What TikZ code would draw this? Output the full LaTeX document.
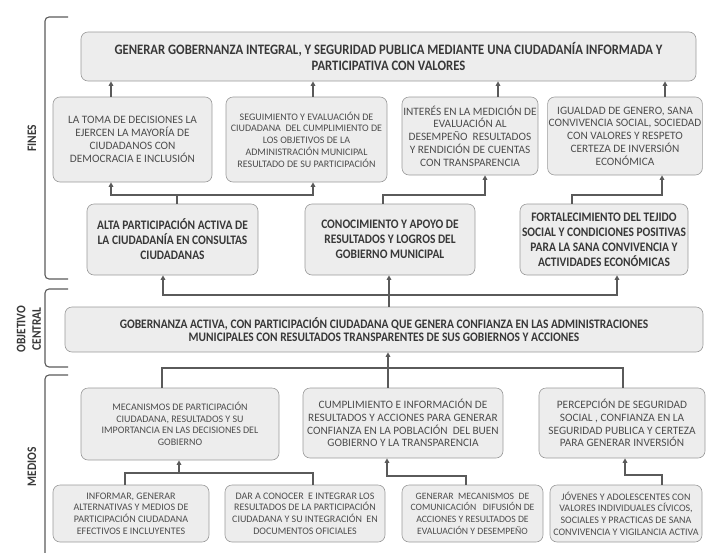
\documentclass[tikz,border=0pt]{standalone}
\usepackage{fontspec}
\setmainfont{Carlito}
\newfontfamily\headfont[FakeStretch=0.88]{Carlito}
\usetikzlibrary{arrows.meta,positioning,calc}

\definecolor{boxfill}{HTML}{EDEDED}
\definecolor{boxline}{HTML}{9A9A9A}
\definecolor{linegray}{HTML}{5A5A5A}
\definecolor{txtgray}{HTML}{4D4D4D}
\definecolor{txtdark}{HTML}{383838}

\begin{document}
\begin{tikzpicture}[
    x=1pt, y=-1pt,
    box/.style={rectangle, draw=boxline, fill=boxfill, line width=0.6pt, rounded corners=7pt, inner sep=1pt, align=center, text=txtgray},
    wh/.style 2 args={minimum width=#1pt, minimum height=#2pt},
    note/.style={box, font=\fontsize{10}{11.7}\selectfont},
    notebig/.style={box, font=\fontsize{11.3}{12.8}\selectfont},
    keybox/.style={box, text=txtdark, font=\headfont\bfseries\fontsize{13}{15}\selectfont},
    side/.style={rotate=90, align=center, text=txtdark, font=\headfont\bfseries\fontsize{13}{15.5}\selectfont},
    line/.style={draw=linegray, line width=1.2pt},
    arrow/.style={line, -{Triangle[length=4.5pt,width=4.5pt]}},
    bracket/.style={draw=linegray, line width=1.1pt, rounded corners=4pt}
]
    \useasboundingbox (0,0) rectangle (707,552);

    % section brackets
    \draw[bracket] (68,17) -- (45,17) -- (45,279) -- (68,279);
    \draw[bracket] (68,289) -- (45,289) -- (45,367) -- (68,367);
    \draw[bracket] (68,375) -- (45,375) -- (45,556);
    \node[side] (fineslbl) at (32,138) {FINES};
    \node[side] (centrallbl) at (29,329) {OBJETIVO\\CENTRAL};
    \node[side] (medioslbl) at (32,467) {MEDIOS};

    % fines
    \node[keybox, wh={615}{49}, font=\headfont\bfseries\fontsize{14.4}{16}\selectfont] (topgoal) at (388.5,56.5) {GENERAR GOBERNANZA INTEGRAL, Y SEGURIDAD PUBLICA MEDIANTE UNA CIUDADANÍA INFORMADA Y\\PARTICIPATIVA CON VALORES};
    \node[notebig, wh={159}{85}] (decisiones) at (132.5,139.5) {LA TOMA DE DECISIONES LA\\EJERCEN LA MAYORÍA DE\\CIUDADANOS CON\\DEMOCRACIA E INCLUSIÓN};
    \node[note, wh={161}{85}] (seguimiento) at (306.5,139.5) {SEGUIMIENTO Y EVALUACIÓN DE\\CIUDADANA~ DEL CUMPLIMIENTO DE\\LOS OBJETIVOS DE LA\\ADMINISTRACIÓN MUNICIPAL\\RESULTADO DE SU PARTICIPACIÓN};
    \node[notebig, wh={136}{78}] (interes) at (470,136) {INTERÉS EN LA MEDICIÓN DE\\EVALUACIÓN AL\\DESEMPEÑO~ RESULTADOS\\Y RENDICIÓN DE CUENTAS\\CON TRANSPARENCIA};
    \node[notebig, wh={154}{78}] (igualdad) at (625,136) {IGUALDAD DE GENERO, SANA\\CONVIVENCIA SOCIAL, SOCIEDAD\\CON VALORES Y RESPETO\\CERTEZA DE INVERSIÓN\\ECONÓMICA};
    \node[keybox, wh={171}{71}] (participacion) at (172.5,239.5) {ALTA PARTICIPACIÓN ACTIVA DE\\LA CIUDADANÍA EN CONSULTAS\\CIUDADANAS};
    \node[keybox, wh={170}{71}] (conocimiento) at (390,239.5) {CONOCIMIENTO Y APOYO DE\\RESULTADOS Y LOGROS DEL\\GOBIERNO MUNICIPAL};
    \node[keybox, wh={168}{71}] (tejido) at (604,239.5) {FORTALECIMIENTO DEL TEJIDO\\SOCIAL Y CONDICIONES POSITIVAS\\PARA LA SANA CONVIVENCIA Y\\ACTIVIDADES ECONÓMICAS};

    % objetivo central
    \node[keybox, wh={638}{45}, font=\headfont\bfseries\fontsize{13}{13.5}\selectfont] (central) at (384,329.5) {GOBERNANZA ACTIVA, CON PARTICIPACIÓN CIUDADANA QUE GENERA CONFIANZA EN LAS ADMINISTRACIONES\\MUNICIPALES CON RESULTADOS TRANSPARENTES DE SUS GOBIERNOS Y ACCIONES};

    % medios
    \node[note, wh={198}{72}] (mecanismos) at (180,424) {MECANISMOS DE PARTICIPACIÓN\\CIUDADANA, RESULTADOS Y SU\\IMPORTANCIA EN LAS DECISIONES DEL\\GOBIERNO};
    \node[notebig, wh={200}{70}] (cumplimiento) at (403,423) {CUMPLIMIENTO E INFORMACIÓN DE\\RESULTADOS Y ACCIONES PARA GENERAR\\CONFIANZA EN LA POBLACIÓN~ DEL BUEN\\GOBIERNO Y LA TRANSPARENCIA};
    \node[notebig, wh={166}{70}] (percepcion) at (622,423) {PERCEPCIÓN DE SEGURIDAD\\SOCIAL , CONFIANZA EN LA\\SEGURIDAD PUBLICA Y CERTEZA\\PARA GENERAR INVERSIÓN};
    \node[note, wh={156}{57}] (informar) at (131,513.5) {INFORMAR, GENERAR\\ALTERNATIVAS Y MEDIOS DE\\PARTICIPACIÓN CIUDADANA\\EFECTIVOS E INCLUYENTES};
    \node[note, wh={160}{57}] (integrar) at (305,513.5) {DAR A CONOCER~ E INTEGRAR LOS\\RESULTADOS DE LA PARTICIPACIÓN\\CIUDADANA Y SU INTEGRACIÓN~ EN\\DOCUMENTOS OFICIALES};
    \node[note, wh={141}{57}, font=\fontsize{9.7}{11.7}\selectfont] (comunicacion) at (472.5,513.5) {GENERAR~ MECANISMOS~ DE\\COMUNICACIÓN~~ DIFUSIÓN DE\\ACCIONES Y RESULTADOS DE\\EVALUACIÓN Y DESEMPEÑO};
    \node[note, wh={152}{57}] (jovenes) at (626,513.5) {JÓVENES Y ADOLESCENTES CON\\VALORES INDIVIDUALES CÍVICOS,\\SOCIALES Y PRACTICAS DE SANA\\CONVIVENCIA Y VIGILANCIA ACTIVA};

    % junction points
    \coordinate (e0) at (177,195);
    \coordinate (e1) at (111,195);
    \coordinate (e2) at (313,195);
    \coordinate (f0) at (383,195);
    \coordinate (f1) at (485,195);
    \coordinate (g0) at (572,195);
    \coordinate (g1) at (662,195);
    \coordinate (u3) at (498,88);
    \coordinate (u4) at (665,88);
    \coordinate (c0) at (389,295);
    \coordinate (c1) at (163,295);
    \coordinate (c2) at (617,295);
    \coordinate (m0) at (388,368);
    \coordinate (m1) at (162,368);
    \coordinate (m2) at (623,368);
    \coordinate (b0) at (179,473);
    \coordinate (b1) at (125,473);
    \coordinate (b2) at (313,473);
    \coordinate (n0) at (466,476);
    \coordinate (n1) at (387,476);
    \coordinate (p0) at (662,475);
    \coordinate (p1) at (625,475);

    % fines connectors
    \draw[arrow] (e1 |- decisiones.north) -- (e1 |- topgoal.south);
    \draw[arrow] (e2 |- seguimiento.north) -- (e2 |- topgoal.south);
    \draw[arrow] (u3 |- interes.north) -- (u3 |- topgoal.south);
    \draw[arrow] (u4 |- igualdad.north) -- (u4 |- topgoal.south);
    \draw[arrow] (e0 |- participacion.north) |- (e1) -- (e1 |- decisiones.south);
    \draw[arrow] (e0 |- participacion.north) |- (e2) -- (e2 |- seguimiento.south);
    \draw[arrow] (f0 |- conocimiento.north) |- (f1) -- (f1 |- interes.south);
    \draw[arrow] (g0 |- tejido.north) |- (g1) -- (g1 |- igualdad.south);

    % central connectors
    \draw[arrow] (c0 |- central.north) -- (c0 |- conocimiento.south);
    \draw[arrow] (c0) -| (c1 |- participacion.south);
    \draw[arrow] (c0) -| (c2 |- tejido.south);
    \draw[arrow] (m0 |- cumplimiento.north) -- (m0 |- central.south);
    \draw[line] (m1 |- mecanismos.north) |- (m2) -- (m2 |- percepcion.north);

    % medios connectors
    \draw[line] (b1 |- informar.north) |- (b2) -- (b2 |- integrar.north);
    \draw[arrow] (b0) -- (b0 |- mecanismos.south);
    \draw[arrow] (n0 |- comunicacion.north) |- (n1) -- (n1 |- cumplimiento.south);
    \draw[arrow] (p0 |- jovenes.north) |- (p1) -- (p1 |- percepcion.south);
\end{tikzpicture}
\end{document}
